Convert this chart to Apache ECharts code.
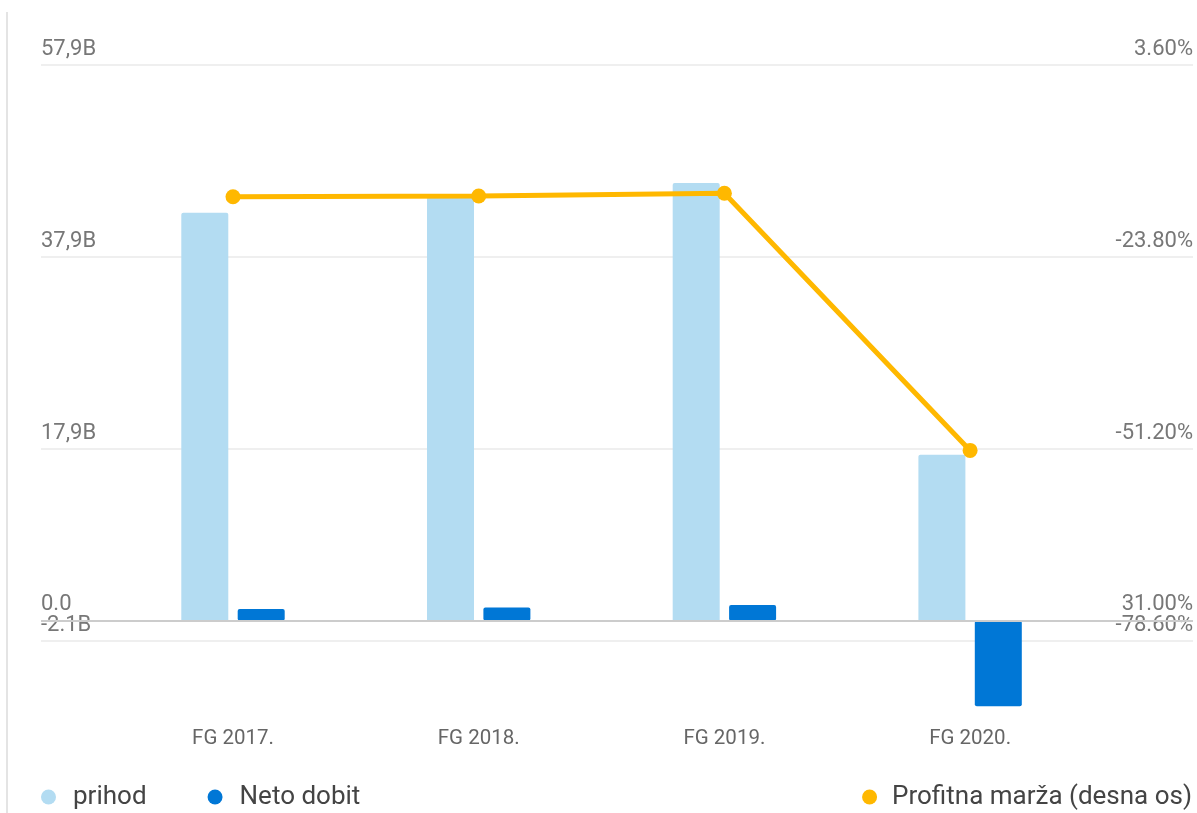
<!DOCTYPE html>
<html>
<head>
<meta charset="utf-8">
<script src="https://cdn.jsdelivr.net/npm/echarts@6/dist/echarts.min.js"></script>
<style>
  html, body { margin: 0; padding: 0; background: #fff; }
  #chart { position: absolute; left: 0; top: 0; width: 1197px; height: 813px; }
  #edge { position: absolute; left: 6px; top: 12px; height: 801px; border-left: 2px solid #e4e4e4; }
</style>
</head>
<body>
<div id="edge"></div>
<div id="chart"></div>
<script>
// ---- data ----
const categories = ['FG 2017.', 'FG 2018.', 'FG 2019.', 'FG 2020.'];
const prihod = [42.5, 44.2, 45.6, 17.3];          // billions
const netoDobit = [1.23, 1.4, 1.65, -8.9];        // billions
const profitnaMarza = [-15.2, -15.1, -14.7, -51.4]; // % (right axis as drawn)

const leftTickLabels = ['-2.1B', '17,9B', '37,9B', '57,9B'];
const rightTickLabels = ['-78.60%', '-51.20%', '-23.80%', '3.60%'];
const zeroLineLabels = ['0.0', '31.00%']; // left / right labels on the zero line
const leftMin = -2.1, leftMax = 57.9, leftInterval = 20;
const rightMin = -78.6, rightMax = 3.6, rightInterval = 27.4;

function tickLabel(labels, min, interval, v) {
  const idx = Math.round((v - min) / interval);
  return labels[idx] !== undefined ? labels[idx] : '';
}

const chart = echarts.init(document.getElementById('chart'));
const axisFont = { fontFamily: 'Roboto', fontSize: 22, color: '#777' };

chart.setOption({
  animation: false,
  grid: { left: 41, right: 4, top: 65, bottom: 172 },
  legend: [
    {
      left: 36, top: 779, icon: 'circle', itemWidth: 15, itemHeight: 15, itemGap: 61,
      data: ['prihod', 'Neto dobit'],
      textStyle: { fontFamily: 'Roboto', fontSize: 26, color: '#444', padding: [0, 0, 0, 12] }
    },
    {
      right: 0, top: 779, icon: 'circle', itemWidth: 15, itemHeight: 15,
      data: ['Profitna marža (desna os)'],
      textStyle: { fontFamily: 'Roboto', fontSize: 26, color: '#444', padding: [0, 0, 0, 10] }
    }
  ],
  xAxis: {
    type: 'value',
    min: -0.7814, max: 3.9072,
    splitLine: { show: false },
    axisLine: { show: false, onZero: false },
    axisTick: { show: false },
    axisLabel: {
      customValues: [0, 1, 2, 3],
      formatter: v => categories[Math.round(v)],
      margin: 87,
      fontFamily: 'Roboto', fontSize: 20.5, color: '#666'
    }
  },
  yAxis: [
    {
      type: 'value', min: leftMin, max: leftMax, interval: leftInterval,
      axisLine: { show: false }, axisTick: { show: false },
      splitLine: { show: true, lineStyle: { color: '#efefef', width: 2 } },
      axisLabel: Object.assign({
        inside: true, margin: 0, verticalAlign: 'bottom', padding: [0, 0, 5, 0],
        showMinLabel: true, showMaxLabel: true, hideOverlap: false,
        formatter: v => tickLabel(leftTickLabels, leftMin, leftInterval, v)
      }, axisFont)
    },
    {
      type: 'value', min: rightMin, max: rightMax, interval: rightInterval,
      axisLine: { show: false }, axisTick: { show: false },
      splitLine: { show: false },
      axisLabel: Object.assign({
        inside: true, margin: 0, verticalAlign: 'bottom', padding: [0, 0, 5, 0],
        showMinLabel: true, showMaxLabel: true, hideOverlap: false,
        formatter: v => tickLabel(rightTickLabels, rightMin, rightInterval, v)
      }, axisFont)
    }
  ],
  series: [
    {
      name: 'prihod', type: 'bar', barWidth: 47, barGap: '20%', clip: false,
      itemStyle: { color: '#b3dcf2', borderRadius: [2, 2, 0, 0] },
      data: prihod.map((v, i) => [i, v])
    },
    {
      name: 'Neto dobit', type: 'bar', barWidth: 47, barGap: '20%', clip: false,
      itemStyle: { color: '#0077d6', borderRadius: 2 },
      data: netoDobit.map((v, i) => [i, v]),
      markLine: {
        silent: true, symbol: 'none', animation: false,
        lineStyle: { color: '#cccccc', width: 2, type: 'solid' },
        label: Object.assign({ show: true, distance: [0, 5] }, axisFont),
        data: [
          { yAxis: 0, label: { formatter: zeroLineLabels[0], position: 'insideStartTop' } },
          { yAxis: 0, label: { formatter: zeroLineLabels[1], position: 'insideEndTop' } }
        ]
      }
    },
    {
      name: 'Profitna marža (desna os)', type: 'line', yAxisIndex: 1,
      symbol: 'circle', symbolSize: 15, z: 5,
      lineStyle: { color: '#ffb800', width: 5 },
      itemStyle: { color: '#ffb800' },
      data: profitnaMarza.map((v, i) => [i, v])
    }
  ]
});
</script>
</body>
</html>
